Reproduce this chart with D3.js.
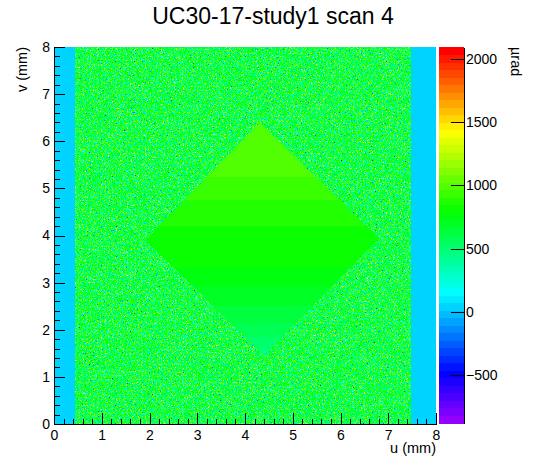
<!DOCTYPE html>
<html><head><meta charset="utf-8">
<script src="https://cdn.jsdelivr.net/npm/d3@7"></script>
<style>
html,body{margin:0;padding:0;background:#fff;}
svg{display:block;font-family:"Liberation Sans",Arial,Helvetica,sans-serif;}
</style></head>
<body>
<svg id="chart" width="546" height="472"></svg>
<script>
// ---- data ----
const title = "UC30-17-study1 scan 4";
const xLabel = "u (mm)", yLabel = "v (mm)", zLabel = "µrad";
const uDomain = [0, 8];
const vDomain = [0, 8];
const zDomain = [-880, 2095];
const xTickValues = [0,1,2,3,4,5,6,7,8];
const yTickValues = [0,1,2,3,4,5,6,7,8];
const zTickValues = [-500,0,500,1000,1500,2000];
// empty (unscanned) side strips, u ranges in mm
const stripStart = [0.00, 7.46];
const stripEnd   = [0.46, 8.00];
const stripValue = 40;
// scanned noisy region (u range) : mean and spread of the values
const noiseU = [0.46, 7.46];
const noiseMean = 665;
const noiseSpread = 240;
// diamond (corners: top, right, bottom, left)
const diamondU = [4.31, 6.81, 4.40, 1.91];
const diamondV = [6.39, 3.94, 1.46, 3.90];
// diamond value bands along v
const bandVTop    = [6.40, 5.25, 4.75, 4.20, 3.30, 2.90, 2.50, 2.15, 1.85, 1.60];
const bandVBottom = [5.25, 4.75, 4.20, 3.30, 2.90, 2.50, 2.15, 1.85, 1.60, 1.40];
const bandValue   = [1000, 936, 877, 817, 758, 698, 639, 579, 520, 460];

// ---- palette (ROOT pretty palette: 50 colours violet -> red) ----
const nColors = 50;
const palette = d3.range(nColors).map(i => d3.rgb(d3.hsl(280 - (i+1)*5.6, 1, 0.5)).formatHex());
const color = d3.scaleQuantize().domain(zDomain).range(palette);

const svg = d3.select("#chart");
const plot = {left:54, right:436, top:47, bottom:424};
const x = d3.scaleLinear().domain(uDomain).range([plot.left, plot.right]);
const y = d3.scaleLinear().domain(vDomain).range([plot.bottom, plot.top]);
const zs = d3.scaleLinear().domain(zDomain).range([423, 47]);

const defs = svg.append("defs");

// noise texture filter mapped through palette
const range = zDomain[1]-zDomain[0];
const meanN = (noiseMean - zDomain[0])/range;
const sdN = noiseSpread/range;
const sR = 0.09;
const a = sdN/sR, b = meanN - 0.5*a;
const f = defs.append("filter").attr("id","noise")
  .attr("filterUnits","userSpaceOnUse")
  .attr("x", x(noiseU[0])).attr("y", plot.top)
  .attr("width", x(noiseU[1]) - x(noiseU[0])).attr("height", plot.bottom - plot.top)
  .attr("color-interpolation-filters","sRGB");
f.append("feTurbulence").attr("type","fractalNoise").attr("baseFrequency","0.73")
  .attr("numOctaves","2").attr("seed","7");
f.append("feColorMatrix").attr("type","matrix")
  .attr("values", `${a} 0 0 0 ${b}  ${a} 0 0 0 ${b}  ${a} 0 0 0 ${b}  0 0 0 0 1`);
const ct = f.append("feComponentTransfer");
const rgbs = palette.map(c => d3.rgb(c));
ct.append("feFuncR").attr("type","discrete").attr("tableValues", rgbs.map(c=>(c.r/255).toFixed(4)).join(" "));
ct.append("feFuncG").attr("type","discrete").attr("tableValues", rgbs.map(c=>(c.g/255).toFixed(4)).join(" "));
ct.append("feFuncB").attr("type","discrete").attr("tableValues", rgbs.map(c=>(c.b/255).toFixed(4)).join(" "));

// strips
svg.append("g").selectAll("rect").data(stripStart).join("rect")
  .attr("x", (d)=>x(d)).attr("y", plot.top)
  .attr("width", (d,i)=>x(stripEnd[i]) - x(d)).attr("height", plot.bottom-plot.top)
  .attr("fill", color(stripValue)).attr("shape-rendering","crispEdges");

// noisy region
svg.append("rect")
  .attr("x", x(noiseU[0])).attr("y", plot.top)
  .attr("width", x(noiseU[1]) - x(noiseU[0])).attr("height", plot.bottom-plot.top)
  .attr("fill", color(noiseMean)).attr("filter","url(#noise)");

// diamond
defs.append("clipPath").attr("id","diamondClip")
  .append("polygon")
  .attr("points", diamondU.map((u,i)=>[x(u), y(diamondV[i])].join(",")).join(" "));
svg.append("g").attr("clip-path","url(#diamondClip)")
  .selectAll("rect").data(bandValue).join("rect")
  .attr("x", x(uDomain[0])).attr("width", x(uDomain[1]) - x(uDomain[0]))
  .attr("y", (d,i)=>y(bandVTop[i]))
  .attr("height", (d,i)=>y(bandVBottom[i]) - y(bandVTop[i]) + 0.5)
  .attr("fill", d=>color(d)).attr("shape-rendering","crispEdges");

// axes
const minorX = d3.range(uDomain[0], uDomain[1]+1e-9, 0.2).filter(v=>Math.abs(v-Math.round(v))>1e-6);
const minorY = d3.range(vDomain[0], vDomain[1]+1e-9, 0.2).filter(v=>Math.abs(v-Math.round(v))>1e-6);

const gx = svg.append("g").attr("transform",`translate(0,${plot.bottom})`);
gx.call(d3.axisBottom(x).tickValues(minorX).tickSize(-5.5).tickFormat("").tickSizeOuter(0));
gx.call(g=>g.select(".domain").remove());
const gx2 = svg.append("g").attr("transform",`translate(0,${plot.bottom})`)
  .call(d3.axisBottom(x).tickValues(xTickValues).tickSize(-11).tickSizeOuter(0).tickPadding(6).tickFormat(d3.format("d")));

const gy = svg.append("g").attr("transform",`translate(${plot.left},0)`);
gy.call(d3.axisLeft(y).tickValues(minorY).tickSize(-5.5).tickFormat("").tickSizeOuter(0));
gy.call(g=>g.select(".domain").remove());
const gy2 = svg.append("g").attr("transform",`translate(${plot.left},0)`)
  .call(d3.axisLeft(y).tickValues(yTickValues).tickSize(-11).tickSizeOuter(0).tickPadding(4).tickFormat(d3.format("d")));

[gx,gx2,gy,gy2].forEach(g=>{
  g.selectAll("line,path").attr("stroke","#000").attr("stroke-width",1).attr("shape-rendering","crispEdges");
  g.selectAll("text").attr("font-size",14).attr("fill","#000").attr("font-family","Liberation Sans, Arial, sans-serif");
});

// colour bar
const cb = {left:439, right:464};
const step = range/nColors;
svg.append("g").selectAll("rect").data(palette).join("rect")
  .attr("x", cb.left).attr("width", cb.right-cb.left)
  .attr("y", (d,i)=>zs(zDomain[0] + (i+1)*step))
  .attr("height", (d,i)=>zs(zDomain[0] + i*step) - zs(zDomain[0] + (i+1)*step) + 0.5)
  .attr("fill", d=>d).attr("shape-rendering","crispEdges");
const gz = svg.append("g").attr("transform",`translate(${cb.right},0)`)
  .call(d3.axisRight(zs).tickValues(zTickValues).tickSizeInner(-13).tickSizeOuter(0).tickPadding(2).tickFormat(d3.format("d")));
gz.selectAll("line,path").attr("stroke","#000").attr("stroke-width",1).attr("shape-rendering","crispEdges");
gz.selectAll("text").attr("font-size",14).attr("fill","#000").attr("font-family","Liberation Sans, Arial, sans-serif");

// titles
svg.append("text").attr("x",273).attr("y",23.5).attr("text-anchor","middle")
  .attr("font-size",23).text(title);
svg.append("text").attr("x",plot.right).attr("y",453).attr("text-anchor","end")
  .attr("font-size",14.5).text(xLabel);
svg.append("text").attr("transform",`translate(27,${plot.top}) rotate(-90)`).attr("text-anchor","end")
  .attr("font-size",14.5).text(yLabel);
svg.append("text").attr("transform",`translate(511,${plot.top}) rotate(90)`).attr("text-anchor","start")
  .attr("font-size",14.5).text(zLabel);
</script>
</body></html>
